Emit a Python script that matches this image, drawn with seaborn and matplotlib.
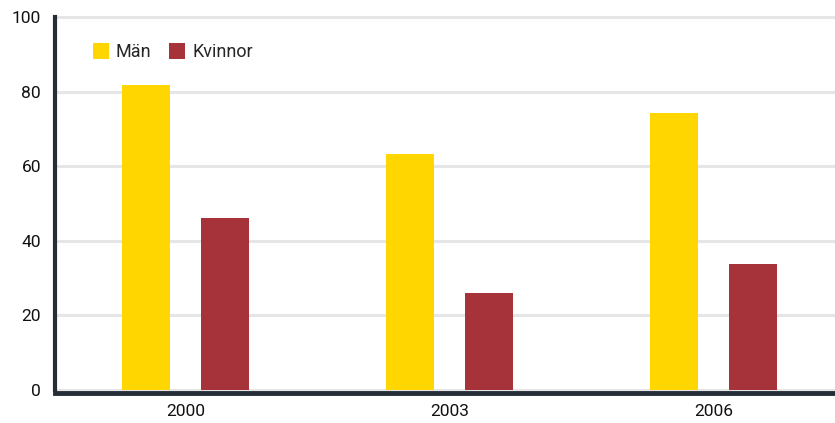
import matplotlib
matplotlib.use("Agg")
import matplotlib.pyplot as plt
import seaborn as sns
import pandas as pd

years = ["2000", "2003", "2006"]
man = [81.8, 63.3, 74.3]
kvinnor = [46.1, 26.0, 33.8]
series_names = ["Män", "Kvinnor"]
colors = ["#FFD600", "#A63339"]
yticks = [0, 20, 40, 60, 80, 100]

df = pd.DataFrame({
    "År": years * 2,
    "Värde": man + kvinnor,
    "Kön": [series_names[0]] * 3 + [series_names[1]] * 3,
})

sns.set_style("white")
plt.rcParams["font.family"] = ["Roboto", "DejaVu Sans"]

fig = plt.figure(figsize=(8.35, 4.23), dpi=100)
ax = fig.add_axes([55 / 835, 1 - 390 / 423, 1 - 55 / 835, (390 - 17) / 423])

sns.barplot(data=df, x="År", y="Värde", hue="Kön", order=years,
            hue_order=series_names, palette=colors, width=0.6, gap=0.39,
            saturation=1, linewidth=0, edgecolor="none", ax=ax, zorder=3)

ax.set_xlim(-0.494, 2.46)
ax.set_ylim(0, 100)
ax.set_yticks(yticks)
ax.set_xlabel("")
ax.set_ylabel("")
ax.yaxis.grid(True, color="#e6e6e6", linewidth=2.2, zorder=0)
for gl in ax.get_ygridlines():
    gl.set_clip_on(False)
ax.set_axisbelow(True)

for s in ["top", "right"]:
    ax.spines[s].set_visible(False)
ax.spines["left"].set_color("#252e37")
ax.spines["left"].set_linewidth(3)
ax.spines["bottom"].set_color("#252e37")
ax.spines["bottom"].set_linewidth(3.5)
ax.spines["bottom"].set_position(("outward", 2))
ax.spines["bottom"].set_zorder(5)

ax.tick_params(axis="both", length=0, labelsize=12.5, colors="#111111")
ax.tick_params(axis="y", pad=10)
ax.tick_params(axis="x", pad=8)

handles, labels = ax.get_legend_handles_labels()
ax.legend(handles, labels, loc="upper left", bbox_to_anchor=(0.049, 0.93),
          ncol=2, frameon=False, borderpad=0, borderaxespad=0,
          handlelength=0.85, handleheight=1.0, handletextpad=0.4,
          columnspacing=1.0, fontsize=13)

fig.savefig("out.png", dpi=100)
